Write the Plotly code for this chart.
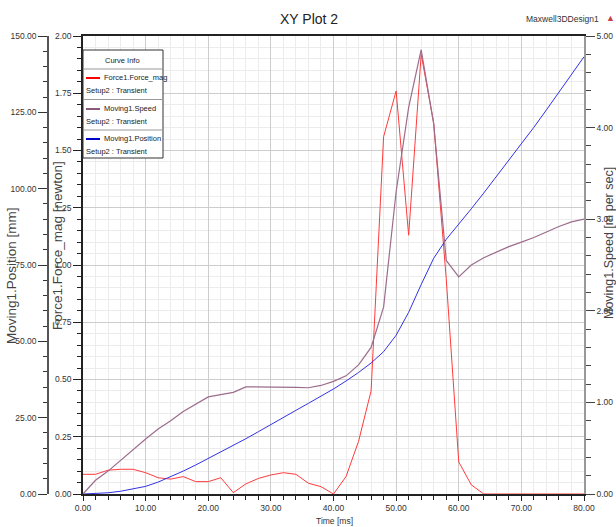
import plotly.graph_objects as go

# ---------------- data ----------------
time_ms = [0, 2, 4, 6, 8, 10, 12, 14, 16, 18, 20, 22, 24, 26, 28, 30, 32, 34, 36, 38, 40,
           42, 44, 46, 48, 50, 52, 54, 56, 58, 60, 62, 64, 66, 68, 70, 72, 74, 76, 78, 80]

force_newton = [0.086, 0.086, 0.104, 0.108, 0.108, 0.093, 0.071, 0.065, 0.076, 0.054, 0.054,
                0.071, 0.006, 0.044, 0.068, 0.083, 0.093, 0.086, 0.047, 0.032, 0.0,
                0.076, 0.23, 0.45, 1.56, 1.76, 1.13, 1.92, 1.62, 0.94, 0.14,
                0.04, 0.0, 0.0, 0.0, 0.0, 0.0, 0.0, 0.0, 0.0, 0.0]

speed_m_per_s = [0.0, 0.15, 0.25, 0.37, 0.49, 0.60, 0.71, 0.80, 0.90, 0.98, 1.06,
                 1.085, 1.11, 1.17, 1.17, 1.17, 1.17, 1.165, 1.16, 1.185, 1.23,
                 1.29, 1.41, 1.60, 2.04, 3.30, 4.22, 4.85, 4.04, 2.55, 2.37,
                 2.50, 2.58, 2.64, 2.70, 2.75, 2.80, 2.86, 2.92, 2.97, 3.00]

position_mm = [0.0, 0.1, 0.4, 0.9, 1.6, 2.5, 3.9, 5.6, 7.5, 9.5, 11.6,
               13.7, 15.9, 18.1, 20.4, 22.8, 25.1, 27.4, 29.7, 32.0, 34.4,
               37.0, 39.8, 42.9, 46.6, 52.0, 59.5, 68.6, 77.2, 83.4, 88.3,
               93.4, 98.6, 103.9, 109.2, 114.6, 120.1, 125.8, 131.6, 137.5, 143.2]

curve_names = ["Force1.Force_mag", "Moving1.Speed", "Moving1.Position"]
setup_label = "Setup2 : Transient"

# ---------------- styling ----------------
W, H = 616, 527
FONT = "Liberation Sans, Arial, sans-serif"
TXT = "#333333"

def px(x):
    return x / W

def py(y):
    return 1 - y / H

X0, X1 = 83, 584
Y_TOP, Y_BOT = 36, 494

fig = go.Figure()
fig.add_trace(go.Scatter(x=time_ms, y=force_newton, mode="lines", name=curve_names[0],
                         line=dict(color="#ff3b3b", width=1), yaxis="y"))
fig.add_trace(go.Scatter(x=time_ms, y=speed_m_per_s, mode="lines", name=curve_names[1],
                         line=dict(color="#9c6c8c", width=1.2), yaxis="y3"))
fig.add_trace(go.Scatter(x=time_ms, y=position_mm, mode="lines", name=curve_names[2],
                         line=dict(color="#3232e6", width=1), yaxis="y2"))

tickfont = dict(family=FONT, size=8.5, color=TXT)

fig.update_layout(
    width=W, height=H,
    margin=dict(l=0, r=0, t=0, b=0, autoexpand=False),
    paper_bgcolor="white", plot_bgcolor="white",
    showlegend=False,
    xaxis=dict(domain=[px(X0), px(X1)], range=[0, 80], dtick=10, tick0=0,
               tickformat=".2f", ticks="outside", ticklen=5, tickcolor="#222",
               showline=True, linecolor="#222", linewidth=1.5, mirror=True,
               showgrid=True, gridcolor="#cdcdcd", gridwidth=1, zeroline=False,
               minor=dict(dtick=2, ticks="outside", ticklen=4, tickcolor="#222",
                          showgrid=True, gridcolor="#ececec"),
               tickfont=tickfont, automargin=False),
    yaxis=dict(domain=[py(Y_BOT), py(Y_TOP)], range=[0, 2], dtick=0.25, tick0=0,
               tickformat=".2f", ticks="outside", ticklen=8, tickcolor="#222",
               showline=True, linecolor="#222", linewidth=1.5,
               showgrid=True, gridcolor="#cdcdcd", zeroline=False,
               minor=dict(dtick=0.05, ticks="outside", ticklen=4, tickcolor="#222",
                          showgrid=True, gridcolor="#ececec"),
               tickfont=tickfont, automargin=False),
    yaxis2=dict(overlaying="y", anchor="free", position=px(48), side="left",
                range=[0, 150], dtick=25, tick0=0, tickformat=".2f",
                ticks="outside", ticklen=9, tickcolor="#333",
                showline=True, linecolor="#555", linewidth=1.5,
                showgrid=False, zeroline=False,
                minor=dict(dtick=5, ticks="outside", ticklen=4, tickcolor="#333"),
                tickfont=tickfont, automargin=False),
    yaxis3=dict(overlaying="y", anchor="x", side="right",
                range=[0, 5], dtick=1, tick0=0, tickformat=".2f",
                ticks="outside", ticklen=9, tickcolor="#444",
                showline=True, linecolor="#999", linewidth=1.5,
                showgrid=False, zeroline=False,
                minor=dict(dtick=0.2, ticks="outside", ticklen=5, tickcolor="#444"),
                tickfont=tickfont, automargin=False),
)

def note(text, x, y, size, color="#222", angle=0, xanchor="center"):
    return dict(text=text, x=px(x), y=py(y), xref="paper", yref="paper",
                xanchor=xanchor, yanchor="middle", showarrow=False, textangle=angle,
                font=dict(family=FONT, size=size, color=color))

ann = []
# title and header texts
ann.append(note("XY Plot 2", 309, 19, 14))
ann.append(note("Maxwell3DDesign1", 562, 19, 8.5, "#333"))
ann.append(note("▲", 610, 18, 9, "#c84040"))
# axis titles
ann.append(note("Time [ms]", 334, 521, 8.5, TXT))
ann.append(note("Moving1.Position [mm]", 11, 276, 13.5, "#444", -90))
ann.append(note("Force1.Force_mag [newton]", 57, 246, 13.5, "#444", -90))
ann.append(note("Moving1.Speed [m per sec]", 609, 243, 12.5, "#444", -90))

# legend box ("Curve Info")
LX0, LX1, LY0, LY1 = 83, 163, 50, 158
shapes = [dict(type="rect", xref="paper", yref="paper", x0=px(LX0), x1=px(LX1),
               y0=py(LY1), y1=py(LY0), line=dict(color="#333", width=1), fillcolor="white",
               layer="above")]
for sy in (69, 99.5, 130):
    shapes.append(dict(type="line", xref="paper", yref="paper", x0=px(LX0), x1=px(LX1),
                       y0=py(sy), y1=py(sy), line=dict(color="#999", width=1), layer="above"))
legend_colors = ["#ff0000", "#8b5a7b", "#0000cc"]
row_y = [78, 109, 139]
for name, col, ry in zip(curve_names, legend_colors, row_y):
    shapes.append(dict(type="line", xref="paper", yref="paper", x0=px(86), x1=px(100),
                       y0=py(ry), y1=py(ry), line=dict(color=col, width=2), layer="above"))
    ann.append(note(name, 102, ry, 7.5, "#222", xanchor="left"))
    ann.append(note(setup_label, 84, ry + 12, 7.5, "#222", xanchor="left"))
ann.append(note("Curve Info", 122, 60, 7.5))

fig.update_layout(annotations=ann, shapes=shapes)
fig.write_html("out.html", config={"displayModeBar": False},
               post_script="document.body.style.margin='0';document.body.style.overflow='hidden';")
